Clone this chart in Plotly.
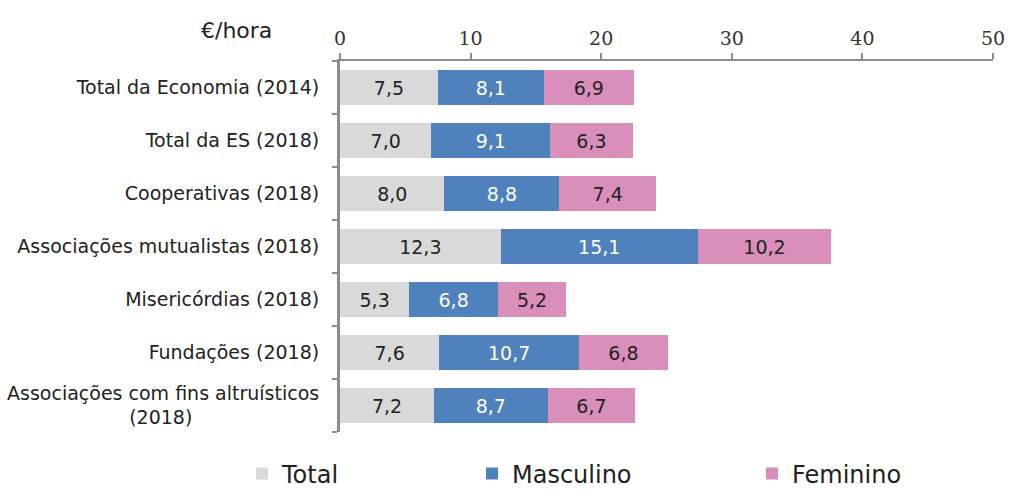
import plotly.graph_objects as go

categories = [
    "Total da Economia (2014)",
    "Total da ES (2018)",
    "Cooperativas (2018)",
    "Associações mutualistas (2018)",
    "Misericórdias (2018)",
    "Fundações (2018)",
    "Associações com fins altruísticos (2018)",
]
tick_text = categories[:-1] + ["Associações com fins altruísticos<br>(2018)" + "\u00a0" * 21]
total = [7.5, 7.0, 8.0, 12.3, 5.3, 7.6, 7.2]
masculino = [8.1, 9.1, 8.8, 15.1, 6.8, 10.7, 8.7]
feminino = [6.9, 6.3, 7.4, 10.2, 5.2, 6.8, 6.7]
x_ticks = [0, 10, 20, 30, 40, 50]

series = [
    ("Total", total, "#d9d9d9", "#222222", "legend"),
    ("Masculino", masculino, "#4f81bd", "#ffffff", "legend2"),
    ("Feminino", feminino, "#d98fb9", "#222222", "legend3"),
]

fig = go.Figure()
for name, values, color, text_color, legend in series:
    fig.add_trace(go.Bar(
        y=categories,
        x=values,
        name=name,
        orientation="h",
        marker=dict(color=color, line=dict(width=0)),
        texttemplate="%{x:.1f}",
        textposition="inside",
        textangle=0,
        insidetextanchor="middle",
        textfont=dict(color=text_color, size=19, family="DejaVu Sans"),
        legend=legend,
        showlegend=True,
    ))

legend_style = dict(
    orientation="h",
    yanchor="middle",
    xanchor="left",
    xref="container",
    yref="container",
    y=15 / 489,
    font=dict(size=24, family="DejaVu Sans", color="#222222"),
    bgcolor="rgba(0,0,0,0)",
    itemwidth=30,
    visible=True,
)

fig.update_layout(
    barmode="stack",
    bargap=0.33,
    separators=",.",
    width=1010,
    height=489,
    showlegend=True,
    margin=dict(l=340, r=17, t=61, b=57, autoexpand=False),
    paper_bgcolor="white",
    plot_bgcolor="white",
    font=dict(family="DejaVu Sans", color="#222222"),
    legend=dict(legend_style, x=242 / 1010),
    legend2=dict(legend_style, x=472 / 1010),
    legend3=dict(legend_style, x=752 / 1010),
    annotations=[
        dict(
            text="€/hora", xref="paper", yref="paper", x=-0.159, y=1.0,
            yshift=31, xanchor="center", yanchor="middle", showarrow=False,
            font=dict(size=22, family="DejaVu Sans", color="#222222"),
        )
    ],
)

fig.update_xaxes(
    side="top",
    range=[0, 50],
    tickvals=x_ticks,
    showgrid=False,
    zeroline=False,
    showline=True,
    linecolor="#8c8c8c",
    linewidth=2,
    ticks="outside",
    ticklen=6,
    tickcolor="#8c8c8c",
    tickwidth=2,
    tickfont=dict(size=19, family="DejaVu Serif", color="#333333"),
)
fig.update_yaxes(
    autorange="reversed",
    tickvals=categories,
    ticktext=tick_text,
    showgrid=False,
    showline=True,
    linecolor="#8c8c8c",
    linewidth=3,
    ticks="outside",
    tickson="boundaries",
    ticklen=5,
    tickcolor="#8c8c8c",
    tickwidth=2,
    ticklabelstandoff=14,
    tickfont=dict(size=19, family="DejaVu Sans", color="#222222"),
)

fig.write_html(
    "out.html",
    config={"displayModeBar": False},
    post_script="document.body.style.margin='0';",
)
